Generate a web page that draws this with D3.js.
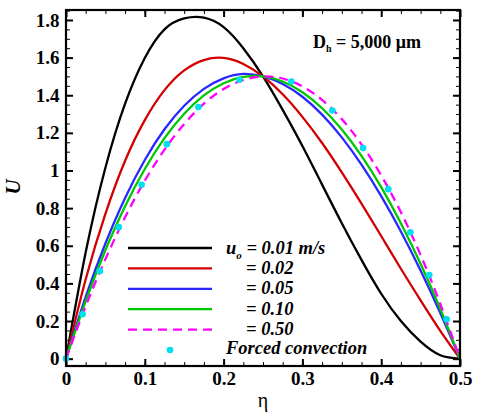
<!DOCTYPE html>
<html>
<head>
<meta charset="utf-8">
<script src="https://cdn.jsdelivr.net/npm/d3@7"></script>
<style>
  body { margin: 0; background: #fff; }
  svg { display: block; }
</style>
</head>
<body>
<svg width="481" height="420"></svg>
<script>
// velocity profiles
const eta = [0, 0.025, 0.05, 0.075, 0.1, 0.125, 0.15, 0.175, 0.2, 0.225, 0.25,
             0.275, 0.3, 0.325, 0.35, 0.375, 0.4, 0.425, 0.45, 0.475, 0.5];
const u001 = [0, 0.565, 1.015, 1.355, 1.598, 1.75, 1.808, 1.812, 1.762, 1.65, 1.5,
              1.322, 1.13, 0.925, 0.72, 0.525, 0.345, 0.2, 0.09, 0.018, 0];
const u002 = [0, 0.422, 0.77, 1.052, 1.268, 1.427, 1.532, 1.587, 1.598, 1.566, 1.5,
              1.405, 1.285, 1.146, 0.99, 0.824, 0.652, 0.478, 0.31, 0.148, 0];
const u005 = [0, 0.328, 0.612, 0.854, 1.056, 1.219, 1.344, 1.434, 1.49, 1.513, 1.5,
              1.46, 1.392, 1.297, 1.176, 1.031, 0.864, 0.676, 0.468, 0.242, 0];
const u010 = [0, 0.306, 0.576, 0.81, 1.008, 1.172, 1.302, 1.399, 1.464, 1.497, 1.5,
              1.473, 1.416, 1.331, 1.218, 1.078, 0.912, 0.72, 0.504, 0.264, 0];
const u050 = [0, 0.279, 0.529, 0.752, 0.946, 1.111, 1.247, 1.355, 1.433, 1.481, 1.5,
              1.489, 1.447, 1.375, 1.273, 1.139, 0.974, 0.778, 0.551, 0.291, 0];

// forced convection points
const fcEta = [0, 0.021, 0.043, 0.067, 0.096, 0.128, 0.168, 0.22, 0.286, 0.338,
               0.377, 0.409, 0.437, 0.461, 0.483];
const fcU = [0, 0.236, 0.466, 0.699, 0.924, 1.14, 1.337, 1.482, 1.473, 1.319,
             1.119, 0.901, 0.672, 0.445, 0.209];

const legendLabels = ["= 0.01 m/s", "= 0.02", "= 0.05", "= 0.10", "= 0.50"];
const xTicks = [0, 0.1, 0.2, 0.3, 0.4, 0.5];
const xTickLabels = ["0", "0.1", "0.2", "0.3", "0.4", "0.5"];
const yTicks = [0, 0.2, 0.4, 0.6, 0.8, 1, 1.2, 1.4, 1.6, 1.8];
const yTickLabels = ["0", "0.2", "0.4", "0.6", "0.8", "1", "1.2", "1.4", "1.6", "1.8"];

const series = [
    { u: u001, color: "#000000", dash: null },
    { u: u002, color: "#d40000", dash: null },
    { u: u005, color: "#2828ff", dash: null },
    { u: u010, color: "#00c800", dash: null },
    { u: u050, color: "#ff00ff", dash: "9,6" },
];

const svg = d3.select("svg");
const plotL = 66, plotR = 460, plotT = 10, plotB = 366;

const x = d3.scaleLinear().domain([0, 0.5]).range([plotL, plotR]);
const y = d3.scaleLinear().domain([-0.039, 1.853]).range([plotB, plotT]);

const font = "'Liberation Serif', 'Times New Roman', serif";

// ticks, all pointing inwards
const styleAxis = (g, w) => {
    g.select(".domain").remove();
    g.selectAll(".tick line").attr("stroke", "#000").attr("stroke-width", w);
    g.selectAll(".tick text")
        .attr("fill", "#000")
        .style("font-family", font)
        .style("font-weight", "bold")
        .style("font-size", "19px");
};

const xMinor = d3.range(0, 0.5001, 0.025);
const yMinor = d3.range(0, 1.851, 0.05);

svg.append("g").attr("transform", `translate(0,${plotB})`)
    .call(d3.axisBottom(x).tickValues(xMinor).tickSizeInner(-4).tickSizeOuter(0).tickFormat(""))
    .call(g => styleAxis(g, 1));
svg.append("g").attr("transform", `translate(0,${plotT})`)
    .call(d3.axisTop(x).tickValues(xMinor).tickSizeInner(-4).tickSizeOuter(0).tickFormat(""))
    .call(g => styleAxis(g, 1));
svg.append("g").attr("transform", `translate(${plotL},0)`)
    .call(d3.axisLeft(y).tickValues(yMinor).tickSizeInner(-4).tickSizeOuter(0).tickFormat(""))
    .call(g => styleAxis(g, 1));
svg.append("g").attr("transform", `translate(${plotR},0)`)
    .call(d3.axisRight(y).tickValues(yMinor).tickSizeInner(-4).tickSizeOuter(0).tickFormat(""))
    .call(g => styleAxis(g, 1));

svg.append("g").attr("transform", `translate(0,${plotB})`)
    .call(d3.axisBottom(x).tickValues(xTicks).tickSizeInner(-7).tickSizeOuter(0)
        .tickPadding(6).tickFormat((d, i) => xTickLabels[i]))
    .call(g => styleAxis(g, 2));
svg.append("g").attr("transform", `translate(0,${plotT})`)
    .call(d3.axisTop(x).tickValues(xTicks).tickSizeInner(-7).tickSizeOuter(0).tickFormat(""))
    .call(g => styleAxis(g, 2));
svg.append("g").attr("transform", `translate(${plotL},0)`)
    .call(d3.axisLeft(y).tickValues(yTicks).tickSizeInner(-7).tickSizeOuter(0)
        .tickPadding(6.5).tickFormat((d, i) => yTickLabels[i]))
    .call(g => styleAxis(g, 2));
svg.append("g").attr("transform", `translate(${plotR},0)`)
    .call(d3.axisRight(y).tickValues(yTicks).tickSizeInner(-7).tickSizeOuter(0).tickFormat(""))
    .call(g => styleAxis(g, 2));

// curves
const line = d3.line()
    .x((d, i) => x(eta[i]))
    .y(d => y(d))
    .curve(d3.curveNatural);

series.forEach(s => {
    svg.append("path")
        .attr("d", line(s.u))
        .attr("fill", "none")
        .attr("stroke", s.color)
        .attr("stroke-width", 2.3)
        .attr("stroke-dasharray", s.dash);
});

// forced convection dots
svg.append("g")
    .selectAll("circle")
    .data(fcEta)
    .enter()
    .append("circle")
    .attr("cx", d => x(d))
    .attr("cy", (d, i) => y(fcU[i]))
    .attr("r", 3.3)
    .attr("fill", "#00e0f0");

// frame
svg.append("rect")
    .attr("x", plotL).attr("y", plotT)
    .attr("width", plotR - plotL).attr("height", plotB - plotT)
    .attr("fill", "none").attr("stroke", "#000").attr("stroke-width", 2.2);

// legend
const leg = svg.append("g");
series.forEach((s, i) => {
    const ly = 248 + i * 20.4;
    leg.append("line")
        .attr("x1", 128).attr("x2", 212)
        .attr("y1", ly).attr("y2", ly)
        .attr("stroke", s.color)
        .attr("stroke-width", 2.3)
        .attr("stroke-dasharray", s.dash);
    const t = leg.append("text")
        .attr("y", ly + 5.5)
        .style("font-family", font)
        .style("font-weight", "bold")
        .style("font-style", "italic")
        .style("font-size", "18.5px");
    if (i === 0) {
        t.attr("x", 226);
        t.append("tspan").text("u");
        t.append("tspan").attr("dy", 5).style("font-size", "11px").text("o");
        t.append("tspan").attr("dy", -5).text(" " + legendLabels[i]);
    } else {
        t.attr("x", 246).text(legendLabels[i]);
    }
});
leg.append("circle").attr("cx", 170).attr("cy", 350).attr("r", 3.3).attr("fill", "#00e0f0");
leg.append("text")
    .attr("x", 226).attr("y", 354)
    .style("font-family", font)
    .style("font-weight", "bold")
    .style("font-style", "italic")
    .style("font-size", "18.5px")
    .text("Forced convection");

// annotation
const ann = svg.append("text")
    .attr("x", 313).attr("y", 48)
    .style("font-family", font)
    .style("font-weight", "bold")
    .style("font-size", "18px");
ann.append("tspan").text("D");
ann.append("tspan").attr("dy", 4).style("font-size", "10px").text("h");
ann.append("tspan").attr("dy", -4).text(" = 5,000 \u03bcm");

// axis titles
svg.append("text")
    .attr("transform", "translate(19.5,187) rotate(-90)")
    .attr("text-anchor", "middle")
    .style("font-family", font)
    .style("font-weight", "bold")
    .style("font-style", "italic")
    .style("font-size", "21px")
    .text("U");

svg.append("text")
    .attr("x", 263).attr("y", 407)
    .attr("text-anchor", "middle")
    .style("font-family", font)
    .style("font-size", "20px")
    .text("\u03b7");
</script>
</body>
</html>
